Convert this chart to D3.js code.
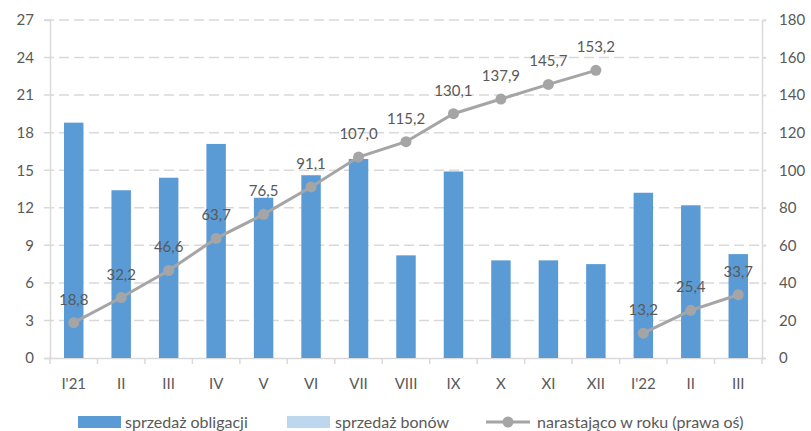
<!DOCTYPE html>
<html>
<head>
<meta charset="utf-8">
<script src="https://cdn.jsdelivr.net/npm/d3@7/dist/d3.min.js"></script>
<style>
  html, body { margin: 0; padding: 0; background: #fff; }
  svg { display: block; font-family: Lato, "Open Sans", sans-serif; }
</style>
</head>
<body>
<svg id="chart" width="811" height="431"></svg>
<script>
// Months on the category axis
const categories = ["I'21", "II", "III", "IV", "V", "VI", "VII", "VIII", "IX", "X", "XI", "XII", "I'22", "II", "III"];
// Monthly bond sales (left axis)
const bondSales = [18.8, 13.4, 14.4, 17.1, 12.8, 14.6, 15.9, 8.2, 14.9, 7.8, 7.8, 7.5, 13.2, 12.2, 8.3];
// Treasury bill sales (none in the period)
const billSales = [0, 0, 0, 0, 0, 0, 0, 0, 0, 0, 0, 0, 0, 0, 0];
// Year-to-date cumulative total (right axis)
const cumulative = [18.8, 32.2, 46.6, 63.7, 76.5, 91.1, 107.0, 115.2, 130.1, 137.9, 145.7, 153.2, 13.2, 25.4, 33.7];
const cumulativeLabels = ["18,8", "32,2", "46,6", "63,7", "76,5", "91,1", "107,0", "115,2", "130,1", "137,9", "145,7", "153,2", "13,2", "25,4", "33,7"];
// Which year each point belongs to; the line restarts in January
const yearIndex = [0, 0, 0, 0, 0, 0, 0, 0, 0, 0, 0, 0, 1, 1, 1];
const leftTicks = [0, 3, 6, 9, 12, 15, 18, 21, 24, 27];
const rightTicks = [0, 20, 40, 60, 80, 100, 120, 140, 160, 180];
const legendLabels = ["sprzedaż obligacji", "sprzedaż bonów", "narastająco w roku (prawa oś)"];

const svg = d3.select("#chart");
const margin = { left: 50, right: 49, top: 20, bottom: 73 };
const W = 811, H = 431;
const x0 = margin.left, x1 = W - margin.right;
const y0 = H - margin.bottom, y1 = margin.top;

const gridColor = "#D9D9D9";
const textColor = "#595959";
const barColor = "#5B9BD5";
const billColor = "#BDD7EE";
const lineColor = "#A5A5A5";

const x = d3.scaleBand().domain(d3.range(categories.length)).range([x0, x1]).paddingInner(0).paddingOuter(0);
const yL = d3.scaleLinear().domain([0, 27]).range([y0, y1]);
const yR = d3.scaleLinear().domain([0, 180]).range([y0, y1]);

// Dashed horizontal gridlines
svg.append("g").selectAll("line")
  .data(leftTicks.filter(d => d > 0))
  .join("line")
  .attr("x1", x0 - 6).attr("x2", x1 + 4)
  .attr("y1", d => yL(d)).attr("y2", d => yL(d))
  .attr("stroke", gridColor).attr("stroke-width", 1.5)
  .attr("stroke-dasharray", "10,5");

// Left axis
const leftAxis = svg.append("g").attr("transform", `translate(${x0},0)`)
  .call(d3.axisLeft(yL).tickValues(leftTicks).tickSize(6).tickPadding(10).tickFormat(d3.format("d")));
// Right axis
const rightAxis = svg.append("g").attr("transform", `translate(${x1},0)`)
  .call(d3.axisRight(yR).tickValues(rightTicks).tickSize(4).tickPadding(13).tickFormat(d3.format("d")));
// Bottom axis with ticks on the category boundaries
const bottomAxis = svg.append("g").attr("transform", `translate(0,${y0})`)
  .call(d3.axisBottom(x).tickFormat(i => categories[i]).tickSize(0).tickPadding(20));
bottomAxis.append("g").selectAll("line")
  .data(d3.range(categories.length + 1))
  .join("line")
  .attr("x1", i => x0 + i * x.step()).attr("x2", i => x0 + i * x.step())
  .attr("y1", 0).attr("y2", 6)
  .attr("stroke", gridColor).attr("stroke-width", 1.5);

[leftAxis, rightAxis, bottomAxis].forEach(g => {
  g.select(".domain").attr("stroke", gridColor).attr("stroke-width", 1.5);
  g.selectAll(".tick line").attr("stroke", gridColor).attr("stroke-width", 1.5);
  g.selectAll("text").attr("fill", textColor).style("font-size", "15px").style("font-family", "Lato, sans-serif");
});
leftAxis.selectAll(".tick line").filter(d => d > 0).remove();
rightAxis.selectAll(".tick line").filter(d => d > 0).attr("x2", 4);

// Bars
const barW = x.bandwidth() * 0.41;
svg.append("g").selectAll("rect")
  .data(bondSales)
  .join("rect")
  .attr("x", (d, i) => x(i) + x.bandwidth() / 2 - barW / 2)
  .attr("width", barW)
  .attr("y", d => yL(d))
  .attr("height", d => yL(0) - yL(d))
  .attr("fill", barColor);
svg.append("g").selectAll("rect")
  .data(billSales)
  .join("rect")
  .attr("x", (d, i) => x(i) + x.bandwidth() / 2 - barW / 2)
  .attr("width", barW)
  .attr("y", d => yL(d))
  .attr("height", d => yL(0) - yL(d))
  .attr("fill", billColor);

// Cumulative line, one segment per year
const cx = i => x(i) + x.bandwidth() / 2;
const line = d3.line().x(d => cx(d.i)).y(d => yR(d.v));
const points = cumulative.map((v, i) => ({ v, i, year: yearIndex[i], label: cumulativeLabels[i] }));
const years = d3.groups(points, d => d.year);
svg.append("g").selectAll("path")
  .data(years)
  .join("path")
  .attr("d", d => line(d[1]))
  .attr("fill", "none")
  .attr("stroke", lineColor)
  .attr("stroke-width", 3);
svg.append("g").selectAll("circle")
  .data(points)
  .join("circle")
  .attr("cx", d => cx(d.i)).attr("cy", d => yR(d.v))
  .attr("r", 5.5)
  .attr("fill", lineColor);
svg.append("g").selectAll("text")
  .data(points)
  .join("text")
  .attr("x", d => cx(d.i)).attr("y", d => yR(d.v) - 18)
  .attr("text-anchor", "middle")
  .attr("fill", textColor)
  .style("font-size", "15px")
  .text(d => d.label);

// Legend
const legend = svg.append("g").attr("transform", "translate(0,422)");
legend.append("rect").attr("x", 78).attr("y", -6).attr("width", 43).attr("height", 12).attr("fill", barColor);
legend.append("text").attr("x", 125).attr("y", 5.5).attr("fill", textColor).style("font-size", "16px").text(legendLabels[0]);
legend.append("rect").attr("x", 287).attr("y", -6).attr("width", 43).attr("height", 12).attr("fill", billColor);
legend.append("text").attr("x", 335).attr("y", 5.5).attr("fill", textColor).style("font-size", "16px").text(legendLabels[1]);
legend.append("line").attr("x1", 486).attr("x2", 530).attr("y1", 0).attr("y2", 0).attr("stroke", lineColor).attr("stroke-width", 3);
legend.append("circle").attr("cx", 508).attr("cy", 0).attr("r", 5.5).attr("fill", lineColor);
legend.append("text").attr("x", 537).attr("y", 5.5).attr("fill", textColor).style("font-size", "16px").text(legendLabels[2]);
</script>
</body>
</html>
